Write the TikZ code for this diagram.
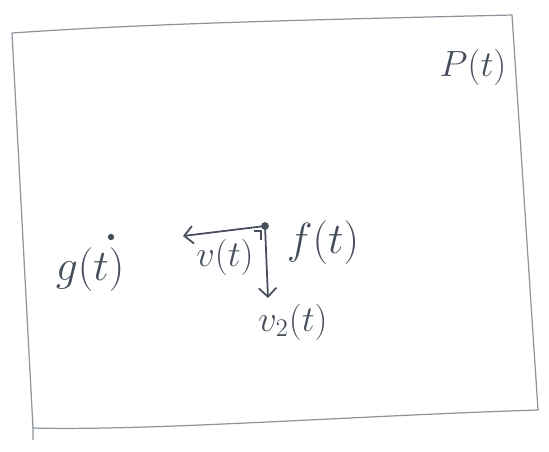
\documentclass[tikz,border=0pt]{standalone}
\usetikzlibrary{arrows.meta}
\definecolor{pencil}{RGB}{70,78,92}
\definecolor{faint}{RGB}{140,148,158}

\begin{document}
\begin{tikzpicture}[font=\huge, color=pencil]
\useasboundingbox (0,0) rectangle (10.98,9.02);

% ---- sheet outline ----
\coordinate (tl) at (0.24,8.36);
\coordinate (tr) at (10.24,8.72);
\coordinate (br) at (10.76,0.82);
\coordinate (bl) at (0.66,0.46);
\coordinate (tail) at (0.66,0.22);
\draw[faint, line width=0.7pt] (tl) .. controls (3.0,8.55) and (6.0,8.62) .. (tr)
   -- (br) .. controls (7.0,0.70) and (3.0,0.40) .. (bl) -- (tail);
\draw[faint, line width=0.7pt] (bl) -- (tl);
\node (p) at (9.46,7.68) {$P(t)$};

% ---- point f(t) with its two vectors ----
\fill (5.30,4.50) circle (2.2pt) coordinate (f);
\coordinate (vend) at (3.66,4.30);
\coordinate (v2end) at (5.36,3.06);
\draw[line width=1pt, -{Straight Barb[length=5pt]}] (f) -- (vend);
\draw[line width=1pt, -{Straight Barb[length=5pt]}] (f) -- (v2end);
% right angle mark
\draw[line width=0.8pt] (5.08,4.40) -- (5.22,4.40) -- (5.22,4.22);

\node (flab) at (6.46,4.16) {\Huge $f(t)$};
\node (vlab) at (4.50,3.88) {$v(t)$};
\node (v2lab) at (5.86,2.58) {$v_2(t)$};

% ---- point g(t) ----
\fill (2.22,4.28) circle (1.8pt) coordinate (g);
\node (glab) at (1.80,3.62) {\Huge $g(t)$};
\end{tikzpicture}
\end{document}
